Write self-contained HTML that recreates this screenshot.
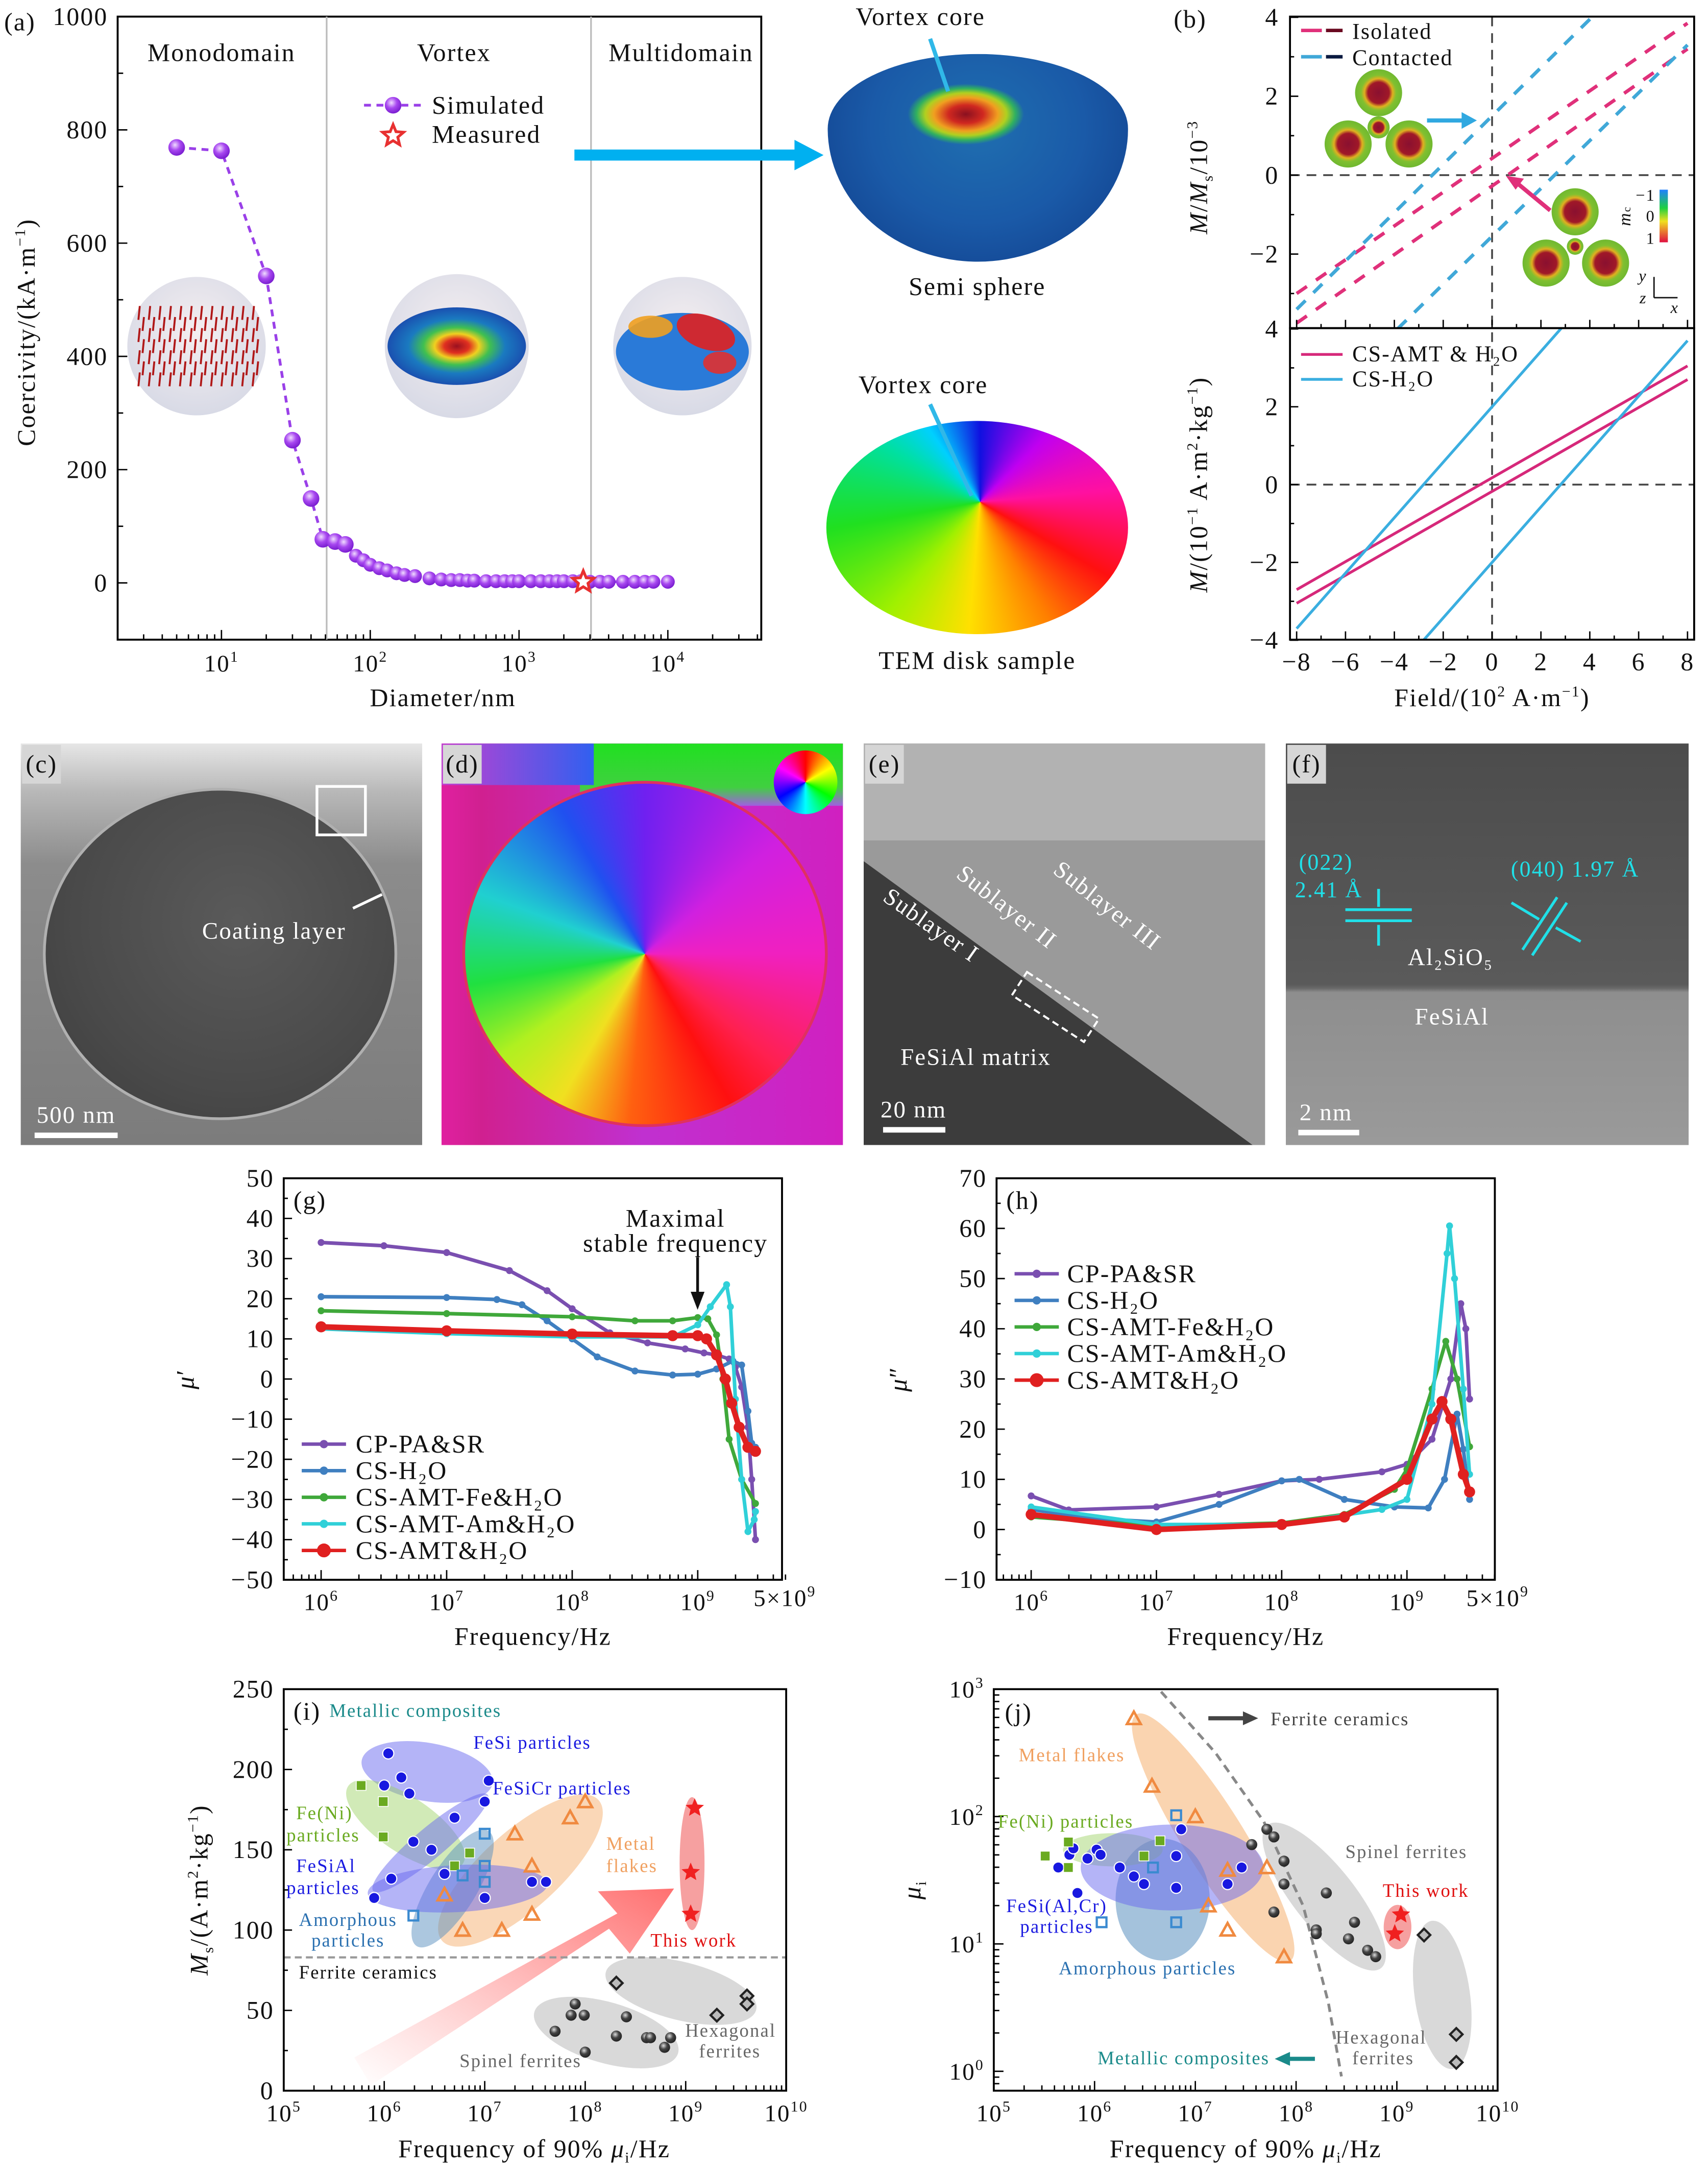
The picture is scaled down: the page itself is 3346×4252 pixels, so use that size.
<!DOCTYPE html>
<html><head><meta charset="utf-8">
<style>
html,body{margin:0;padding:0;background:#fff;width:3346px;height:4252px;overflow:hidden;}
#root{position:absolute;left:0;top:0;width:1234px;height:1568px;transform:scale(2.71151,2.71173);transform-origin:0 0;font-family:"Liberation Serif",serif;}
.abs{position:absolute;}
svg text{font-family:"Liberation Serif","DejaVu Serif",serif;letter-spacing:0.8px;}
</style></head>
<body>
<div id="root">
  <div class="abs" style="left:598px;top:39px;width:217px;height:150px;border-radius:50%/36% 36% 64% 64%;background:radial-gradient(ellipse 42px 22px at 46% 29%,#8a1020 0%,#d02820 30%,#f0a020 55%,#b0d020 70%,#30b060 85%,rgba(30,100,170,0) 100%),radial-gradient(ellipse at 50% 35%,#1f6fb0 0%,#1a5aa8 50%,#103c88 100%);"></div>
  <div class="abs" style="left:597px;top:304px;width:218px;height:154px;border-radius:50%;background:conic-gradient(from 0deg at 51% 38%,#1010e0 0deg,#c000f0 45deg,#ff10a0 85deg,#ff1010 120deg,#ff8000 150deg,#ffe000 185deg,#a0f000 220deg,#20e020 260deg,#00e0a0 300deg,#00d0ff 325deg,#1010e0 360deg);"></div>
  <div class="abs" style="left:15px;top:537px;width:290px;height:290px;overflow:hidden;background:linear-gradient(180deg,#e6e6e6 0%,#b8b8b8 12%,#8c8c8c 30%,#7c7c7c 100%);">
    <div class="abs" style="left:16px;top:32px;width:252px;height:236px;border-radius:50%;background:radial-gradient(ellipse at 55% 40%,#5a5a5a 0%,#4a4a4a 60%,#3c3c3c 100%);border:2px solid #b0b0b0;"></div>
    <div class="abs" style="left:213px;top:30px;width:33px;height:33px;border:2px solid #fff;"></div>
  </div>
  <div class="abs" style="left:319px;top:537px;width:290px;height:290px;overflow:hidden;background:linear-gradient(90deg,#e020a0 0%,#d02090 10%,#c030d0 50%,#d020c0 100%);">
    <div class="abs" style="left:100px;top:0;width:190px;height:45px;background:linear-gradient(180deg,#20e020,#40d040 70%,#a060e0);"></div>
    <div class="abs" style="left:0;top:0;width:110px;height:30px;background:linear-gradient(90deg,#c040d0,#3060f0);"></div>
    <div class="abs" style="left:15px;top:27px;width:260px;height:246px;border-radius:50%;border:2px solid #e03060;background:conic-gradient(from 0deg at 50% 50%,#7020f0 0deg,#d020e0 50deg,#f020c0 90deg,#ff2050 130deg,#ff1010 150deg,#ff6010 185deg,#f0e020 210deg,#b0f020 235deg,#20e040 260deg,#20d0d0 290deg,#2050f0 330deg,#7020f0 360deg);"></div>
    <div class="abs" style="left:240px;top:5px;width:46px;height:46px;border-radius:50%;background:conic-gradient(#ff0000,#ffff00,#00ff00,#00ffff,#0000ff,#ff00ff,#ff0000);"></div>
  </div>
  <div class="abs" style="left:624px;top:537px;width:290px;height:290px;overflow:hidden;background:#9a9a9a;">
    <div class="abs" style="left:0;top:0;width:290px;height:70px;background:#b2b2b2;"></div>
    <div class="abs" style="left:0;top:0;width:290px;height:290px;background:#3c3c3c;clip-path:polygon(0 85px,281px 290px,0 290px);"></div>
  </div>
  <div class="abs" style="left:929px;top:537px;width:291px;height:290px;overflow:hidden;background:linear-gradient(180deg,#4c4c4c 0%,#5a5a5a 60%,#6a6a6a 61%,#8e8e8e 62%,#9a9a9a 100%);"></div>

  <svg id="chart" class="abs" style="left:0;top:0" width="1234" height="1568" viewBox="0 0 1234 1568">
    <defs>
      <radialGradient id="gPur" cx="40%" cy="35%" r="65%"><stop offset="0" stop-color="#f0dcff"/><stop offset="0.5" stop-color="#a848f0"/><stop offset="1" stop-color="#7a1ed0"/></radialGradient>
      <radialGradient id="gSph" cx="50%" cy="40%" r="60%"><stop offset="0" stop-color="#f4eef0"/><stop offset="1" stop-color="#d8dae6"/></radialGradient>
      <radialGradient id="gVort" cx="50%" cy="50%" r="50%"><stop offset="0" stop-color="#9a1020"/><stop offset="0.18" stop-color="#e03020"/><stop offset="0.32" stop-color="#f0d020"/><stop offset="0.48" stop-color="#40c050"/><stop offset="0.7" stop-color="#1a7ac0"/><stop offset="1" stop-color="#1a50b0"/></radialGradient>
      <radialGradient id="gSeed" cx="50%" cy="50%" r="50%"><stop offset="0" stop-color="#8a1030"/><stop offset="0.45" stop-color="#a01828"/><stop offset="0.6" stop-color="#e0b020"/><stop offset="0.75" stop-color="#80c030"/><stop offset="1" stop-color="#70b830"/></radialGradient>
      <radialGradient id="gDark" cx="40%" cy="35%" r="65%"><stop offset="0" stop-color="#ddd"/><stop offset="0.5" stop-color="#444"/><stop offset="1" stop-color="#222"/></radialGradient>
      <linearGradient id="gArrow" x1="0" y1="1" x2="1" y2="0"><stop offset="0" stop-color="#ff8080" stop-opacity="0"/><stop offset="1" stop-color="#ff6060" stop-opacity="0.9"/></linearGradient>
      <linearGradient id="gCbar" x1="0" y1="0" x2="0" y2="1"><stop offset="0" stop-color="#2080ff"/><stop offset="0.35" stop-color="#20d040"/><stop offset="0.6" stop-color="#f0e020"/><stop offset="1" stop-color="#e01040"/></linearGradient>
      <clipPath id="clipBT"><rect x="932" y="12" width="292" height="225"/></clipPath>
      <clipPath id="clipBB"><rect x="932" y="237" width="292" height="225"/></clipPath>
    </defs>
    <g id="layer"></g>
  </svg>
</div>

<script>
// ---------------- DATA ----------------
const aDiameter = [5,10,20,30,40,48,58,68,80,90,100,115,130,150,170,200,250,300,350,400,450,500,600,700,800,900,1000,1200,1400,1600,1800,2000,2300,2600,3000,3500,4000,5000,6000,7000,8000,10000];
const aCoercivity = [769,763,542,252,149,77,73,68,48,40,32,26,22,17,14,12,8,6,5,5,4,4,3,3,3,3,3,3,3,3,3,3,3,3,2,2,2,2,2,2,2,2];
const aMeasuredD = [2700];
const aMeasuredH = [2];
const aYTicks = [0,200,400,600,800,1000];
const bField = [-8, 8];
const bIsoUp = [-3.0, 3.85];
const bIsoDown = [-3.75, 3.2];
const bConUp = [-3.4, 6.4];
const bConDown = [-6.4, 3.3];
const bAmtUp = [-2.7, 3.05];
const bAmtDown = [-3.05, 2.7];
const bH2oUp = [-3.7, 7.7];
const bH2oDown = [-7.7, 3.7];
const bXTicks = [-8,-6,-4,-2,0,2,4,6,8];
const gNames = ["CP-PA&amp;SR","CS-H₂O","CS-AMT-Fe&amp;H₂O","CS-AMT-Am&amp;H₂O","CS-AMT&amp;H₂O"];
const gLogF0 = [6,6.5,7,7.5,7.8,8.0,8.3,8.6,8.9,9.05,9.15,9.25,9.3,9.35,9.4,9.43,9.46];
const gPurple = [34,33.2,31.5,27,22,17.5,11.5,9,7.5,6.5,6,5,3,-2,-12,-25,-40];
const gLogF1 = [6,7,7.4,7.6,7.8,8.0,8.2,8.5,8.8,9.0,9.15,9.28,9.35,9.4,9.43,9.46];
const gBlue = [20.5,20.3,19.8,18.5,14.5,10,5.5,2,1,1.2,2.5,4.5,3.5,-8,-16,-17];
const gLogF2 = [6,7,8,8.5,8.8,9.0,9.08,9.15,9.2,9.25,9.35,9.46];
const gGreen = [17,16.3,15.5,14.5,14.5,15.3,15,11,0,-15,-25,-31];
const gLogF3 = [6,7,8,8.8,9.0,9.1,9.23,9.26,9.3,9.35,9.4,9.45,9.46];
const gCyan = [12.5,11.3,10.5,10.5,13.5,18,23.5,18,-5,-25,-38,-35,-33];
const gLogF4 = [6,7,8,8.8,9.0,9.07,9.15,9.22,9.27,9.33,9.4,9.46];
const gRed = [13,12,11.2,10.8,10.8,10,6,0,-6,-12,-17,-18];
const gYTicks = [-50,-40,-30,-20,-10,0,10,20,30,40,50];
const hLogF0 = [6,6.3,7,7.5,8,8.3,8.8,9.0,9.2,9.35,9.43,9.47,9.5];
const hPurple = [6.7,3.9,4.5,7,9.7,10,11.5,13,18,30,45,40,26];
const hLogF1 = [6,6.5,7,7.5,8,8.14,8.5,8.9,9.17,9.3,9.4,9.45,9.5];
const hBlue = [4,2.2,1.5,5,9.7,10,6,4.5,4.3,10,23,16,6];
const hLogF2 = [6,7,8,8.5,8.9,9.0,9.2,9.31,9.4,9.5];
const hGreen = [2.5,0.7,1.3,3,8,12,28,37.5,30,16.5];
const hLogF3 = [6,7,8,8.8,9.0,9.2,9.32,9.34,9.38,9.45,9.5];
const hCyan = [4.5,1,1,4,6,25,55,60.5,50,28,11];
const hLogF4 = [6,7,8,8.5,9.0,9.2,9.28,9.35,9.45,9.5];
const hRed = [3,0,1,2.5,10,22,25.5,22,11,7.5];
const hYTicks = [-10,0,10,20,30,40,50,60,70];
const iBlueF = [6.04,6.17,6.0,6.25,7.04,7.0,6.7,6.29,6.47,6.07,5.9,6.6,7.0,7.47,7.61];
const iBlueM = [210,195,190,185,193,180,170,155,150,132,120,135,120,130,130];
const iGreenF = [5.77,5.99,5.99,6.85,6.7];
const iGreenM = [190,180,158,148,140];
const iAmorF = [7.0,7.0,6.78,7.0,6.29];
const iAmorM = [160,140,134,130,109];
const iOrangeF = [8.0,7.85,7.3,7.47,6.6,7.47,6.78,7.17];
const iOrangeM = [180,170,160,140,122,110,100,100];
const iStarF = [9.09,9.05,9.05];
const iStarM = [176,136,110];
const iSpinelF = [7.9,7.86,7.99,8.41,7.7,8.31,8.61,8.65,8.85,8.79,8.0];
const iSpinelM = [54,47,47,46,37,34,33,33,33,27,24];
const iHexF = [8.31,9.31,9.61,9.61];
const iHexM = [67,47,59,54];
const iFerriteLine = [83];
const iYTicks = [0,50,100,150,200,250];
const jOrangeF = [6.39,6.57,7.0,7.32,7.71,7.13,7.32,7.88];
const jOrangeM = [2.77,2.24,2.0,1.58,1.60,1.30,1.11,0.9];
const jBlueF = [5.64,5.75,5.79,5.93,6.02,6.06,6.25,6.39,6.49,5.83,6.81,6.86,6.81,7.32,7.46];
const jBlueM = [1.6,1.70,1.75,1.67,1.74,1.70,1.6,1.53,1.47,1.40,1.69,1.90,1.44,1.47,1.60];
const jGreenF = [5.51,5.74,5.74,6.49,6.65];
const jGreenM = [1.69,1.8,1.6,1.69,1.81];
const jAmorF = [6.81,6.58,6.07,6.81];
const jAmorM = [2.01,1.6,1.17,1.17];
const jSpinelF = [7.71,7.78,7.56,7.88,7.88,8.3,7.78,8.2,8.2,8.58,8.52,8.71,8.79];
const jSpinelM = [1.9,1.84,1.78,1.65,1.47,1.40,1.25,1.11,1.08,1.17,1.04,0.95,0.9];
const jHexF = [9.27,9.59,9.59];
const jHexM = [1.07,0.29,0.07];
const jStarF = [9.04,8.98];
const jStarM = [1.23,1.08];
const jCurveF = [6.66,7.2,7.68,8.07,8.32,8.45];
const jCurveM = [2.98,2.5,1.96,1.30,0.54,-0.04];

// ---------------- AXES ----------------
const xa = d => 160 + (Math.log10(d) - 1) * 107.5;
const ya = v => 421 - v * 0.409;
const xb = f => 1078 + f * 17.65;
const ybt = m => 126.5 - m * 28.5;
const ybb = m => 350 - m * 28.1;
const xg = lf => 232 + (lf - 6) * 90.7;
const yg = v => 996 - v * 2.9;
const xh = lf => 745 + (lf - 6) * 90.5;
const yh = v => 1104.7 - v * 3.625;
const xi = lf => 205 + (lf - 5) * 72.6;
const yi = v => 1510 - v * 1.16;
const xj = lf => 718 + (lf - 5) * 72.8;
const yj = lm => 1496 - lm * 92;

// ---------------- HELPERS ----------------
const NS = 'http://www.w3.org/2000/svg';
const root = document.getElementById('layer');
function E(tag, parent) { const e = document.createElementNS(NS, tag); (parent || root).appendChild(e); return e; }
function A(e, o) { for (const k in o) e.setAttribute(k, o[k]); return e; }
function T(x, y, html, size, anchor, fill, rot, name) {
  const t = E('text');
  A(t, {x: x, y: y, 'font-size': (size * 1.08).toFixed(2), 'text-anchor': anchor || 'start', fill: fill || '#111'});
  if (rot) t.setAttribute('transform', 'rotate(' + rot + ' ' + x + ' ' + y + ')');
  t.innerHTML = html;
  
  
  return t;
}
function L(x1, y1, x2, y2, stroke, w, name, dash) {
  const l = E('line');
  A(l, {x1: x1, y1: y1, x2: x2, y2: y2, stroke: stroke, 'stroke-width': w});
  if (dash) l.setAttribute('stroke-dasharray', dash);
  
  
  return l;
}
function frame(x, y, w, h, name) {
  const r = E('rect');
  A(r, {x: x, y: y, width: w, height: h, fill: 'none', stroke: '#000', 'stroke-width': 1.4});
  
  
}
function sup(base, s) { return base + '<tspan dy="-7" font-size="11">' + s + '</tspan>'; }
function logTicksX(lo, hi, fx, yb, len, labelY, decades, name) {
  for (let d = Math.floor(lo); d <= Math.ceil(hi); d++) {
    for (let m = 1; m <= 9; m++) {
      const v = d + Math.log10(m);
      if (v < lo || v > hi) continue;
      L(fx(v), yb, fx(v), yb - (m === 1 ? len : len * 0.55), '#000', 1, name + '-tick');
      if (m === 1 && decades.indexOf(d) >= 0) T(fx(v), labelY, sup('10', d), 16, 'middle', '#111', 0, name + '-label');
    }
  }
}
function poly(xs, ys, fx, fy, color, w, name, dash, clip) {
  const p = E('polyline');
  A(p, {points: xs.map((v, i) => fx(v) + ',' + fy(ys[i])).join(' '), fill: 'none', stroke: color, 'stroke-width': w, 'stroke-linejoin': 'round'});
  if (dash) p.setAttribute('stroke-dasharray', dash);
  if (clip) p.setAttribute('clip-path', 'url(#' + clip + ')');
  
  
  return p;
}
function starPts(cx, cy, r) {
  const pts = [];
  for (let k = 0; k < 10; k++) { const rr = k % 2 ? r * 0.45 : r; const a = -Math.PI / 2 + k * Math.PI / 5; pts.push((cx + rr * Math.cos(a)).toFixed(1) + ',' + (cy + rr * Math.sin(a)).toFixed(1)); }
  return pts.join(' ');
}
function ell(cx, cy, rx, ry, rot, fill, op, name) {
  const e = E('ellipse');
  A(e, {cx: cx, cy: cy, rx: rx, ry: ry, fill: fill, 'fill-opacity': op, transform: 'rotate(' + rot + ' ' + cx + ' ' + cy + ')'});
  
  
}
function marker(kind, cx, cy, color, name) {
  let m;
  if (kind === 'circle') { m = E('circle'); A(m, {cx: cx, cy: cy, r: 4, fill: color, stroke: '#fff', 'stroke-width': 0.8}); }
  else if (kind === 'dark') { m = E('circle'); A(m, {cx: cx, cy: cy, r: 4, fill: 'url(#gDark)'}); }
  else if (kind === 'square') { m = E('rect'); A(m, {x: cx - 3.5, y: cy - 3.5, width: 7, height: 7, fill: color, stroke: '#fff', 'stroke-width': 0.6}); }
  else if (kind === 'osquare') { m = E('rect'); A(m, {x: cx - 3.5, y: cy - 3.5, width: 7, height: 7, fill: 'none', stroke: color, 'stroke-width': 1.6}); }
  else if (kind === 'tri') { m = E('polygon'); A(m, {points: cx + ',' + (cy - 5) + ' ' + (cx - 5) + ',' + (cy + 4) + ' ' + (cx + 5) + ',' + (cy + 4), fill: 'none', stroke: color, 'stroke-width': 1.8}); }
  else if (kind === 'diamond') { m = E('polygon'); A(m, {points: cx + ',' + (cy - 4.5) + ' ' + (cx + 4.5) + ',' + cy + ' ' + cx + ',' + (cy + 4.5) + ' ' + (cx - 4.5) + ',' + cy, fill: '#bbb', stroke: '#222', 'stroke-width': 1.6}); }
  else { m = E('polygon'); A(m, {points: starPts(cx, cy, 7), fill: color}); }
  
  
}
function scatter(kind, xs, ys, fx, fy, color, name) { xs.forEach((v, i) => marker(kind, fx(v), fy(ys[i]), color, name)); }

// ================= PANEL (a) =================
T(3, 22, '(a)', 17, 'start', '#111', 0, 'panel-a-label');
[[142,250,50],[330,250,52],[493,250,50]].forEach(c => { const s = E('circle'); A(s, {cx: c[0], cy: c[1], r: c[2], fill: 'url(#gSph)'});   });
for (let r = 0; r < 7; r++) for (let c = 0; c < 12; c++) {
  const x = 100 + c * 7.5 + (r % 2) * 3, y = 225 + r * 8;
  const l = E('line'); A(l, {x1: x, y1: y + 6, x2: x + 1, y2: y - 4, stroke: '#b01818', 'stroke-width': 1.4});
  
  
}
ell(330, 250, 50, 28, 0, 'url(#gVort)', 1, 'vortex-inset');
ell(493, 254, 48, 28, 0, '#2a7ad8', 1, 'multidomain-inset');
ell(510, 240, 22, 12, 20, '#e02020', 0.9, 'multidomain-patch');
ell(470, 236, 16, 8, 0, '#f0a020', 0.9, 'multidomain-patch');
ell(520, 262, 12, 8, 0, '#e03030', 0.9, 'multidomain-patch');
frame(85, 12, 465, 450, 'panel-a-frame');
L(236, 12, 236, 462, '#bbb', 1.2, 'boundary-monodomain-vortex');
L(427, 12, 427, 462, '#bbb', 1.2, 'boundary-vortex-multidomain');
aYTicks.forEach(v => { L(85, ya(v), 92, ya(v), '#000', 1, 'a-y-tick'); T(78, ya(v) + 6, String(v), 17, 'end', '#111', 0, 'a-y-label'); });
aYTicks.forEach(v => { if (v < 1000) L(85, ya(v + 100), 89, ya(v + 100), '#000', 1, 'a-y-minor'); });
logTicksX(0.33, 4.63, v => xa(Math.pow(10, v)), 462, 7, 485, [1,2,3,4], 'a-x');
T(320, 510, 'Diameter/nm', 17, 'middle', '#111', 0, 'a-x-title');
T(25, 240, 'Coercivity/(kA·m<tspan dy="-7" font-size="11">−1</tspan><tspan dy="7">)</tspan>', 17, 'middle', '#111', -90, 'a-y-title');
T(160, 44, 'Monodomain', 17, 'middle', '#111', 0, 'region-monodomain');
T(328, 44, 'Vortex', 17, 'middle', '#111', 0, 'region-vortex');
T(492, 44, 'Multidomain', 17, 'middle', '#111', 0, 'region-multidomain');
poly(aDiameter, aCoercivity, xa, ya, '#9a40e8', 2, 'simulated-line', '5 4');
aDiameter.forEach((d, i) => { const c = E('circle'); A(c, {cx: xa(d), cy: ya(aCoercivity[i]), r: i < 8 ? 6 : 5, fill: 'url(#gPur)'});   });
aMeasuredD.forEach((d, i) => { const s = E('polygon'); A(s, {points: starPts(xa(d), ya(aMeasuredH[i]), 8), fill: '#fff', stroke: '#e83030', 'stroke-width': 2});   });
L(263, 76, 305, 76, '#9a40e8', 2, 'legend-simulated-line', '5 4');
{ const c = E('circle'); A(c, {cx: 284, cy: 76, r: 6, fill: 'url(#gPur)'});   }
{ const s = E('polygon'); A(s, {points: starPts(284, 98, 8), fill: '#fff', stroke: '#e83030', 'stroke-width': 2});   }
T(312, 82, 'Simulated', 17, 'start', '#111', 0, 'legend-simulated');
T(312, 103, 'Measured', 17, 'start', '#111', 0, 'legend-measured');
L(415, 112, 575, 112, '#00b0f0', 8, 'big-arrow-shaft');
{ const h = E('polygon'); A(h, {points: '574,101 595,112 574,123', fill: '#00b0f0'});   }
T(665, 18, 'Vortex core', 17, 'middle', '#111', 0, 'vortex-core-label-top');
L(672, 28, 685, 66, '#30b8e8', 3, 'vortex-core-pointer-top');
T(706, 213, 'Semi sphere', 17, 'middle', '#111', 0, 'semi-sphere-caption');
T(667, 284, 'Vortex core', 17, 'middle', '#111', 0, 'vortex-core-label-bottom');
L(672, 292, 702, 358, '#30b8e8', 3, 'vortex-core-pointer-bottom');
T(706, 483, 'TEM disk sample', 17, 'middle', '#111', 0, 'tem-disk-caption');

// ================= PANEL (b) =================
T(848, 20, '(b)', 17, 'start', '#111', 0, 'panel-b-label');
L(932, ybt(0), 1224, ybt(0), '#444', 1.3, 'b-top-zero-line', '7 5');
L(932, ybb(0), 1224, ybb(0), '#444', 1.3, 'b-bottom-zero-line', '7 5');
L(xb(0), 12, xb(0), 462, '#444', 1.3, 'b-zero-field-line', '7 5');
poly(bField, bIsoUp, xb, ybt, '#e0307a', 2.5, 'isolated-upper', '9 8', 'clipBT');
poly(bField, bIsoDown, xb, ybt, '#e0307a', 2.5, 'isolated-lower', '9 8', 'clipBT');
poly(bField, bConUp, xb, ybt, '#40a8d8', 2.5, 'contacted-upper', '9 8', 'clipBT');
poly(bField, bConDown, xb, ybt, '#40a8d8', 2.5, 'contacted-lower', '9 8', 'clipBT');
poly(bField, bAmtUp, xb, ybb, '#d6287a', 2, 'cs-amt-h2o-upper', null, 'clipBB');
poly(bField, bAmtDown, xb, ybb, '#d6287a', 2, 'cs-amt-h2o-lower', null, 'clipBB');
poly(bField, bH2oUp, xb, ybb, '#3aaee0', 2, 'cs-h2o-upper', null, 'clipBB');
poly(bField, bH2oDown, xb, ybb, '#3aaee0', 2, 'cs-h2o-lower', null, 'clipBB');
frame(932, 12, 292, 225, 'panel-b-top-frame');
frame(932, 237, 292, 225, 'panel-b-bottom-frame');
[4,2,0,-2].forEach(v => { L(932, ybt(v), 938, ybt(v), '#000', 1, 'b-top-y-tick'); T(924, ybt(v) + 6, String(v).replace('-', '−'), 17, 'end', '#111', 0, 'b-top-y-label'); });
[4,2,0,-2,-4].forEach(v => { L(932, ybb(v), 938, ybb(v), '#000', 1, 'b-bottom-y-tick'); T(924, ybb(v) + 6, String(v).replace('-', '−'), 17, 'end', '#111', 0, 'b-bottom-y-label'); });
[3,1,-1,-3].forEach(v => { L(932, ybt(v), 935, ybt(v), '#000', 1, 'b-top-y-minor'); L(932, ybb(v), 935, ybb(v), '#000', 1, 'b-bottom-y-minor'); });
for (let f = -8; f <= 8; f++) { const len = f % 2 === 0 ? 6 : 3; L(xb(f), 237, xb(f), 237 - len, '#000', 1, 'b-top-x-tick'); L(xb(f), 462, xb(f), 462 - len, '#000', 1, 'b-bottom-x-tick'); }
bXTicks.forEach(f => T(xb(f), 484, String(f).replace('-', '−'), 17, 'middle', '#111', 0, 'b-x-label'));
T(1078, 510, 'Field/(10<tspan dy="-7" font-size="11">2</tspan><tspan dy="7"> A·m</tspan><tspan dy="-7" font-size="11">−1</tspan><tspan dy="7">)</tspan>', 17, 'middle', '#111', 0, 'b-x-title');
T(872, 350, '<tspan font-style="italic">M</tspan>/(10<tspan dy="-7" font-size="11">−1</tspan><tspan dy="7"> A·m</tspan><tspan dy="-7" font-size="11">2</tspan><tspan dy="7">·kg</tspan><tspan dy="-7" font-size="11">−1</tspan><tspan dy="7">)</tspan>', 17, 'middle', '#111', -90, 'b-bottom-y-title');
T(872, 128, '<tspan font-style="italic">M</tspan>/<tspan font-style="italic">M</tspan><tspan font-size="11" dy="4">s</tspan><tspan dy="-4">/10</tspan><tspan dy="-7" font-size="11">−3</tspan>', 17, 'middle', '#111', -90, 'b-top-y-title');
L(940, 22, 955, 22, '#e0307a', 2.5, 'legend-isolated-line');
L(958, 22, 970, 22, '#6a0a20', 2.5, 'legend-isolated-line-dark');
L(940, 41, 955, 41, '#40a8d8', 2.5, 'legend-contacted-line');
L(958, 41, 970, 41, '#0a1a40', 2.5, 'legend-contacted-line-dark');
T(977, 28, 'Isolated', 15, 'start', '#111', 0, 'legend-isolated');
T(977, 47, 'Contacted', 15, 'start', '#111', 0, 'legend-contacted');
L(940, 256, 970, 256, '#d6287a', 2, 'legend-cs-amt-h2o-line');
L(940, 274, 970, 274, '#3aaee0', 2, 'legend-cs-h2o-line');
T(977, 261, 'CS-AMT &amp; H₂O', 15, 'start', '#111', 0, 'legend-cs-amt-h2o');
T(977, 279, 'CS-H₂O', 15, 'start', '#111', 0, 'legend-cs-h2o');
[[996,67,17],[974,104,17],[1018,104,17],[996,92,8],[1138,153,17],[1117,190,17],[1160,190,17],[1138,178,6]].forEach(s => {
  const c = E('circle'); A(c, {cx: s[0], cy: s[1], r: s[2], fill: 'url(#gSeed)'});
  
  
});
L(1031, 87, 1058, 87, '#30a8e0', 3, 'inset-arrow-blue');
{ const h = E('polygon'); A(h, {points: '1056,81 1067,87 1056,93', fill: '#30a8e0'});   }
L(1120, 152, 1097, 133, '#e0307a', 3, 'inset-arrow-pink');
{ const h = E('polygon'); A(h, {points: '1088,127 1101,129 1095,137', fill: '#e0307a'});   }
{ const r = E('rect'); A(r, {x: 1199, y: 137, width: 6, height: 38, fill: 'url(#gCbar)'});   }
T(1196, 145, '−1', 11, 'end', '#111', 0, 'colorbar-label');
T(1196, 160, '0', 11, 'end', '#111', 0, 'colorbar-label');
T(1196, 176, '1', 11, 'end', '#111', 0, 'colorbar-label');
T(1178, 156, '<tspan font-style="italic">m</tspan><tspan font-size="8">c</tspan>', 12, 'middle', '#111', -90, 'colorbar-title');
L(1195, 215, 1195, 200, '#111', 1, 'axis-triad-y');
L(1195, 215, 1212, 215, '#111', 1, 'axis-triad-x');
T(1190, 203, '<tspan font-style="italic">y</tspan>', 11, 'end', '#111', 0, 'triad-y');
T(1190, 219, '<tspan font-style="italic">z</tspan>', 11, 'end', '#111', 0, 'triad-z');
T(1210, 226, '<tspan font-style="italic">x</tspan>', 11, 'middle', '#111', 0, 'triad-x');

// ================= IMAGE ROW LABELS =================
[['(c)',15],['(d)',319],['(e)',624],['(f)',929]].forEach(p => {
  const r = E('rect'); A(r, {x: p[1] + 1, y: 538, width: 28, height: 28, fill: '#d6d6d6'});
  
  
  T(p[1] + 15, 558, p[0], 17, 'middle', '#111', 0, 'panel-image-label');
});
T(198, 678, 'Coating layer', 16, 'middle', '#fff', 0, 'coating-layer-label');
L(255, 656, 276, 646, '#fff', 2, 'coating-layer-arrow');
T(55, 811, '500 nm', 16, 'middle', '#fff', 0, 'scale-label-c');
L(25, 820, 85, 820, '#fff', 4, 'scale-bar-c');
T(637, 650, 'Sublayer I', 16, 'start', '#fff', 35, 'sublayer-1');
T(690, 633, 'Sublayer II', 16, 'start', '#fff', 38, 'sublayer-2');
T(760, 630, 'Sublayer III', 16, 'start', '#fff', 38, 'sublayer-3');
{ const r = E('rect'); A(r, {x: 0, y: 0, width: 62, height: 20, fill: 'none', stroke: '#fff', 'stroke-width': 1.5, 'stroke-dasharray': '5 3', transform: 'translate(742,702) rotate(33)'});   }
T(705, 769, 'FeSiAl matrix', 16, 'middle', '#fff', 0, 'fesial-matrix-label');
T(660, 807, '20 nm', 16, 'middle', '#fff', 0, 'scale-label-e');
L(638, 816, 683, 816, '#fff', 4, 'scale-bar-e');
T(958, 628, '(022)', 15, 'middle', '#20e0e8', 0, 'plane-022');
T(960, 648, '2.41 Å', 15, 'middle', '#20e0e8', 0, 'spacing-241');
L(972, 657, 1020, 657, '#20e0e8', 2, 'lattice-line-1');
L(972, 665, 1020, 665, '#20e0e8', 2, 'lattice-line-2');
L(996, 642, 996, 655, '#20e0e8', 2, 'spacing-arrow-top');
L(996, 668, 996, 683, '#20e0e8', 2, 'spacing-arrow-bottom');
T(1138, 633, '(040) 1.97 Å', 15, 'middle', '#20e0e8', 0, 'plane-040');
L(1100, 686, 1125, 648, '#20e0e8', 2, 'lattice-line-3');
L(1107, 690, 1132, 652, '#20e0e8', 2, 'lattice-line-4');
L(1092, 652, 1112, 664, '#20e0e8', 2, 'spacing-arrow-left');
L(1124, 670, 1142, 680, '#20e0e8', 2, 'spacing-arrow-right');
T(1048, 697, 'Al₂SiO₅', 16, 'middle', '#fff', 0, 'al2sio5-label');
T(1049, 740, 'FeSiAl', 16, 'middle', '#fff', 0, 'fesial-label');
T(958, 809, '2 nm', 16, 'middle', '#fff', 0, 'scale-label-f');
L(938, 818, 982, 818, '#fff', 4, 'scale-bar-f');

// ================= PANEL (g) =================
const seriesColors = ['#7a4fb0','#3f7fc0','#3fa83a','#30d0d8','#e02020'];
frame(205, 851, 360, 290, 'panel-g-frame');
gYTicks.forEach(v => { L(205, yg(v), 211, yg(v), '#000', 1, 'g-y-tick'); T(198, yg(v) + 6, String(v).replace('-', '−'), 17, 'end', '#111', 0, 'g-y-label'); if (v < 50) L(205, yg(v + 5), 208, yg(v + 5), '#000', 1, 'g-y-minor'); });
logTicksX(5.75, 9.7, xg, 1141, 7, 1163, [6,7,8,9], 'g-x');
T(567, 1160, '5×' + sup('10', 9), 16, 'middle', '#111', 0, 'g-x-label-5e9');
T(385, 1188, 'Frequency/Hz', 17, 'middle', '#111', 0, 'g-x-title');
T(140, 996, '<tspan font-style="italic">μ</tspan>′', 17, 'middle', '#111', -90, 'g-y-title');
T(212, 873, '(g)', 17, 'start', '#111', 0, 'panel-g-label');
T(488, 886, 'Maximal', 17, 'middle', '#111', 0, 'annotation-maximal');
T(488, 904, 'stable frequency', 17, 'middle', '#111', 0, 'annotation-stable-frequency');
L(504, 908, 504, 935, '#111', 2, 'stable-frequency-arrow');
{ const h = E('polygon'); A(h, {points: '499,933 509,933 504,946', fill: '#111'});   }
const gX = [gLogF0, gLogF1, gLogF2, gLogF3, gLogF4];
const gY = [gPurple, gBlue, gGreen, gCyan, gRed];
gX.forEach((xs, s) => {
  poly(xs, gY[s], xg, yg, seriesColors[s], s === 4 ? 4 : 2.6, 'g-series-' + s);
  xs.forEach((v, i) => { const c = E('circle'); A(c, {cx: xg(v), cy: yg(gY[s][i]), r: s === 4 ? 4 : 2.5, fill: seriesColors[s]});   });
});
gNames.forEach((n, s) => {
  const y = 1043 + s * 19.2;
  L(218, y, 250, y, seriesColors[s], 2.5, 'g-legend-line');
  const c = E('circle'); A(c, {cx: 234, cy: y, r: s === 4 ? 5 : 3, fill: seriesColors[s]});
  
  
  T(257, y + 6, n, 17, 'start', '#111', 0, 'g-legend-entry');
});

// ================= PANEL (h) =================
frame(720, 851, 360, 290, 'panel-h-frame');
hYTicks.forEach(v => { L(720, yh(v), 726, yh(v), '#000', 1, 'h-y-tick'); T(713, yh(v) + 6, String(v).replace('-', '−'), 17, 'end', '#111', 0, 'h-y-label'); if (v < 70) L(720, yh(v + 5), 723, yh(v + 5), '#000', 1, 'h-y-minor'); });
logTicksX(5.75, 9.7, xh, 1141, 7, 1163, [6,7,8,9], 'h-x');
T(1082, 1160, '5×' + sup('10', 9), 16, 'middle', '#111', 0, 'h-x-label-5e9');
T(900, 1188, 'Frequency/Hz', 17, 'middle', '#111', 0, 'h-x-title');
T(655, 996, '<tspan font-style="italic">μ</tspan>″', 17, 'middle', '#111', -90, 'h-y-title');
T(727, 873, '(h)', 17, 'start', '#111', 0, 'panel-h-label');
const hX = [hLogF0, hLogF1, hLogF2, hLogF3, hLogF4];
const hY = [hPurple, hBlue, hGreen, hCyan, hRed];
hX.forEach((xs, s) => {
  poly(xs, hY[s], xh, yh, seriesColors[s], s === 4 ? 4 : 2.6, 'h-series-' + s);
  xs.forEach((v, i) => { const c = E('circle'); A(c, {cx: xh(v), cy: yh(hY[s][i]), r: s === 4 ? 4 : 2.5, fill: seriesColors[s]});   });
});
gNames.forEach((n, s) => {
  const y = 920 + s * 19.2;
  L(733, y, 765, y, seriesColors[s], 2.5, 'h-legend-line');
  const c = E('circle'); A(c, {cx: 749, cy: y, r: s === 4 ? 5 : 3, fill: seriesColors[s]});
  
  
  T(771, y + 6, n, 17, 'start', '#111', 0, 'h-legend-entry');
});

// ================= PANEL (i) =================
ell(308.6, 1279.8, 48, 21, 10, '#6a6af0', 0.5, 'fesi-region');
ell(293, 1318, 50, 20, 34, '#9ad060', 0.45, 'feni-region');
ell(311, 1331, 54, 11, -40, '#6a6af0', 0.5, 'fesicr-region');
ell(376, 1351, 76, 28, -42, '#f5b070', 0.5, 'metal-flakes-region');
ell(327, 1364, 49, 17, -58, '#5a90c0', 0.5, 'amorphous-region');
ell(330.6, 1364, 65, 17, -3, '#6a6af0', 0.5, 'fesial-region');
ell(500, 1346, 9, 48, 0, '#f06060', 0.6, 'this-work-region-i');
ell(438, 1468, 54, 22, 16, '#aaa', 0.45, 'spinel-region-i');
ell(492, 1438, 56, 21, 14, '#aaa', 0.45, 'hexagonal-region-i');
{ const p = E('polygon'); A(p, {points: '256,1486 268,1506 440,1393 455,1411 487,1364 432,1366 446,1382', fill: 'url(#gArrow)'});   }
iFerriteLine.forEach(v => L(205, yi(v), 568, yi(v), '#999', 1.6, 'ferrite-ceramics-line', '5 3'));
scatter('circle', iBlueF, iBlueM, xi, yi, '#1818e0', 'i-fesi-point');
scatter('square', iGreenF, iGreenM, xi, yi, '#6aaa20', 'i-feni-point');
scatter('osquare', iAmorF, iAmorM, xi, yi, '#3a8ad0', 'i-amorphous-point');
scatter('tri', iOrangeF, iOrangeM, xi, yi, '#f08a40', 'i-metal-flake-point');
scatter('star', iStarF, iStarM, xi, yi, '#f02020', 'i-this-work-point');
scatter('dark', iSpinelF, iSpinelM, xi, yi, '#333', 'i-spinel-point');
scatter('diamond', iHexF, iHexM, xi, yi, '#333', 'i-hexagonal-point');
frame(205, 1220, 363, 290, 'panel-i-frame');
iYTicks.forEach(v => { L(205, yi(v), 211, yi(v), '#000', 1, 'i-y-tick'); T(198, yi(v) + 6, String(v), 17, 'end', '#111', 0, 'i-y-label'); if (v < 250) L(205, yi(v + 25), 208, yi(v + 25), '#000', 1, 'i-y-minor'); });
logTicksX(5, 10, xi, 1510, 7, 1532, [5,6,7,8,9,10], 'i-x');
T(386, 1558, 'Frequency of 90% <tspan font-style="italic">μ</tspan><tspan font-size="11" dy="4">i</tspan><tspan dy="-4">/Hz</tspan>', 17, 'middle', '#111', 0, 'i-x-title');
T(150, 1365, '<tspan font-style="italic">M</tspan><tspan font-size="11" dy="4">s</tspan><tspan dy="-4">/(A·m</tspan><tspan dy="-7" font-size="11">2</tspan><tspan dy="7">·kg</tspan><tspan dy="-7" font-size="11">−1</tspan><tspan dy="7">)</tspan>', 17, 'middle', '#111', -90, 'i-y-title');
T(212, 1242, '(i)', 17, 'start', '#111', 0, 'panel-i-label');
T(238, 1240, 'Metallic composites', 12.5, 'start', '#1a8a8a', 0, 'i-metallic-composites');
T(342, 1263, 'FeSi particles', 12.5, 'start', '#1a1ae0', 0, 'i-fesi-label');
T(356, 1296, 'FeSiCr particles', 12.5, 'start', '#1a1ae0', 0, 'i-fesicr-label');
T(214, 1314, 'Fe(Ni)', 12.5, 'start', '#6aaa20', 0, 'i-feni-label');
T(207, 1330, 'particles', 12.5, 'start', '#6aaa20', 0, 'i-feni-label-2');
T(214, 1352, 'FeSiAl', 12.5, 'start', '#1a1ae0', 0, 'i-fesial-label');
T(207, 1368, 'particles', 12.5, 'start', '#1a1ae0', 0, 'i-fesial-label-2');
T(216, 1391, 'Amorphous', 12.5, 'start', '#2a70b0', 0, 'i-amorphous-label');
T(225, 1406, 'particles', 12.5, 'start', '#2a70b0', 0, 'i-amorphous-label-2');
T(438, 1336, 'Metal', 12.5, 'start', '#f0a060', 0, 'i-metal-label');
T(438, 1352, 'flakes', 12.5, 'start', '#f0a060', 0, 'i-metal-label-2');
T(470, 1406, 'This work', 12.5, 'start', '#e01010', 0, 'i-this-work-label');
T(216, 1429, 'Ferrite ceramics', 12.5, 'start', '#111', 0, 'i-ferrite-ceramics-label');
T(495, 1471, 'Hexagonal', 12.5, 'start', '#666', 0, 'i-hexagonal-label');
T(505, 1486, 'ferrites', 12.5, 'start', '#666', 0, 'i-hexagonal-label-2');
T(332, 1493, 'Spinel ferrites', 12.5, 'start', '#666', 0, 'i-spinel-label');

// ================= PANEL (j) =================
ell(876.5, 1327.3, 105, 22, 58, '#f5b070', 0.55, 'metal-flakes-region-j');
ell(840, 1372, 34, 44, 0, '#5a90c0', 0.55, 'amorphous-region-j');
ell(804, 1336, 36, 12, 0, '#9ad060', 0.45, 'feni-region-j');
ell(846.8, 1348.8, 66, 31, 0, '#6a6af0', 0.5, 'fesi-region-j');
ell(956.7, 1369.8, 66, 22, 51.5, '#aaa', 0.45, 'spinel-region-j');
ell(1042, 1440.8, 20, 54, -8, '#aaa', 0.45, 'hexagonal-region-j');
ell(1009.7, 1391.8, 10, 16, 0, '#f06060', 0.6, 'this-work-region-j');
poly(jCurveF, jCurveM, xj, yj, '#888', 2, 'ferrite-boundary-curve', '6 4');
scatter('tri', jOrangeF, jOrangeM, xj, yj, '#f08a40', 'j-metal-flake-point');
scatter('circle', jBlueF, jBlueM, xj, yj, '#1818e0', 'j-fesi-point');
scatter('square', jGreenF, jGreenM, xj, yj, '#6aaa20', 'j-feni-point');
scatter('osquare', jAmorF, jAmorM, xj, yj, '#3a8ad0', 'j-amorphous-point');
scatter('dark', jSpinelF, jSpinelM, xj, yj, '#333', 'j-spinel-point');
scatter('diamond', jHexF, jHexM, xj, yj, '#333', 'j-hexagonal-point');
scatter('star', jStarF, jStarM, xj, yj, '#f02020', 'j-this-work-point');
frame(718, 1220, 364, 290, 'panel-j-frame');
logTicksX(5, 10, xj, 1510, 7, 1532, [5,6,7,8,9,10], 'j-x');
for (let d = -1; d <= 3; d++) for (let m = 1; m <= 9; m++) {
  const v = d + Math.log10(m);
  if (yj(v) < 1220 || yj(v) > 1510) continue;
  L(718, yj(v), 718 + (m === 1 ? 7 : 4), yj(v), '#000', 1, 'j-y-tick');
  if (m === 1) T(711, yj(v) + 6, sup('10', d), 16, 'end', '#111', 0, 'j-y-label');
}
T(900, 1558, 'Frequency of 90% <tspan font-style="italic">μ</tspan><tspan font-size="11" dy="4">i</tspan><tspan dy="-4">/Hz</tspan>', 17, 'middle', '#111', 0, 'j-x-title');
T(665, 1365, '<tspan font-style="italic">μ</tspan><tspan font-size="11" dy="4">i</tspan>', 17, 'middle', '#111', -90, 'j-y-title');
T(726, 1243, '(j)', 17, 'start', '#111', 0, 'panel-j-label');
L(873, 1241, 900, 1241, '#444', 3, 'ferrite-ceramics-arrow');
{ const h = E('polygon'); A(h, {points: '898,1236 909,1241 898,1246', fill: '#444'});   }
T(918, 1246, 'Ferrite ceramics', 12.5, 'start', '#444', 0, 'j-ferrite-ceramics-label');
T(736, 1272, 'Metal flakes', 12.5, 'start', '#f0a060', 0, 'j-metal-flakes-label');
T(721, 1320, 'Fe(Ni) particles', 12.5, 'start', '#6aaa20', 0, 'j-feni-label');
T(972, 1342, 'Spinel ferrites', 12.5, 'start', '#666', 0, 'j-spinel-label');
T(999, 1370, 'This work', 12.5, 'start', '#e01010', 0, 'j-this-work-label');
T(727, 1381, 'FeSi(Al,Cr)', 12.5, 'start', '#1a1ae0', 0, 'j-fesialcr-label');
T(737, 1396, 'particles', 12.5, 'start', '#1a1ae0', 0, 'j-fesialcr-label-2');
T(765, 1426, 'Amorphous particles', 12.5, 'start', '#2a70b0', 0, 'j-amorphous-label');
T(965, 1476, 'Hexagonal', 12.5, 'start', '#666', 0, 'j-hexagonal-label');
T(977, 1491, 'ferrites', 12.5, 'start', '#666', 0, 'j-hexagonal-label-2');
T(793, 1491, 'Metallic composites', 12.5, 'start', '#1a8a8a', 0, 'j-metallic-composites-label');
L(950, 1487, 930, 1487, '#1a8a8a', 3, 'metallic-composites-arrow');
{ const h = E('polygon'); A(h, {points: '932,1482 921,1487 932,1492', fill: '#1a8a8a'});   }
</script>
</body></html>
